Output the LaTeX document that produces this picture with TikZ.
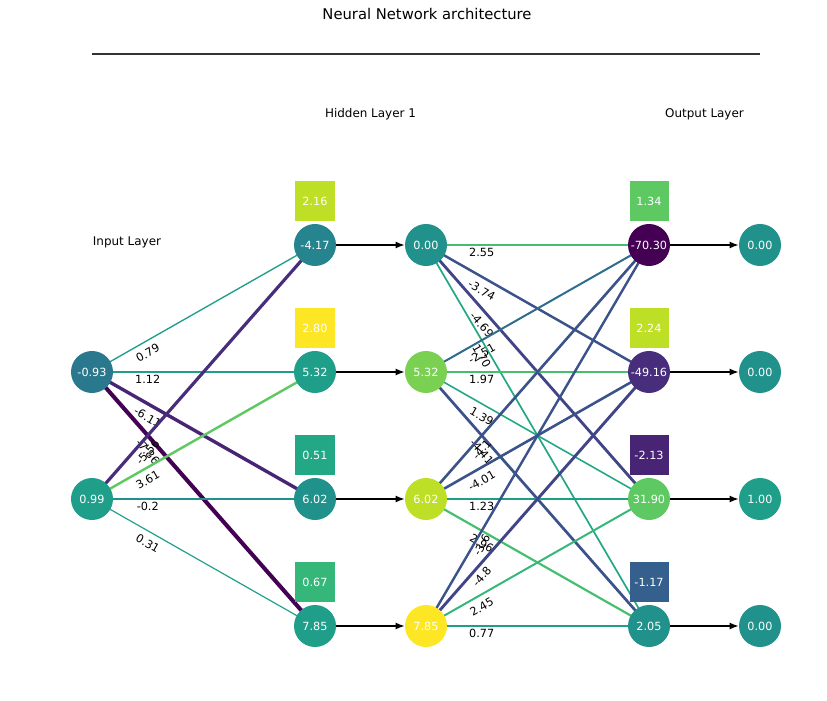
\documentclass[tikz,border=0pt]{standalone}
\usepackage{fontspec}
\setmainfont{DejaVu Sans}
\usetikzlibrary{arrows.meta,calc}
% viridis, sampled every 0.05
\definecolor{v00}{HTML}{440154}
\definecolor{v05}{HTML}{471365}
\definecolor{v10}{HTML}{482475}
\definecolor{v15}{HTML}{472D7B}
\definecolor{v20}{HTML}{414487}
\definecolor{v25}{HTML}{3B528B}
\definecolor{v30}{HTML}{355F8D}
\definecolor{v35}{HTML}{2F6C8E}
\definecolor{v40}{HTML}{2A788E}
\definecolor{v45}{HTML}{25848E}
\definecolor{v50}{HTML}{21918C}
\definecolor{v55}{HTML}{1F9E89}
\definecolor{v60}{HTML}{22A884}
\definecolor{v65}{HTML}{35B779}
\definecolor{v70}{HTML}{44BF70}
\definecolor{v75}{HTML}{5EC962}
\definecolor{v80}{HTML}{7AD151}
\definecolor{v85}{HTML}{9FDA3A}
\definecolor{v90}{HTML}{BDDF26}
\definecolor{v95}{HTML}{DFE318}
\definecolor{v100}{HTML}{FDE725}
\newcommand{\XI}{92}
\newcommand{\XH}{315}
\newcommand{\XA}{426}
\newcommand{\XO}{649}
\newcommand{\XP}{760}
\newcommand{\DY}{127}
\newcommand{\wfont}{\fontsize{8}{9}\selectfont}
\pgfdeclarelayer{bg}
\pgfsetlayers{bg,main}

\begin{document}
\begin{tikzpicture}[
    x=0.025cm, y=-0.025cm,
    unit/.style={circle, minimum size=1.05cm, inner sep=0pt, text=white, font=\wfont},
    bias/.style={rectangle, minimum size=0.975cm, inner sep=0pt, text=white, font=\wfont},
    wlab/.style={font=\wfont, inner sep=0pt},
    act/.style={-{Latex[length=6.5pt, width=5pt]}, line width=1pt},
    head/.style={font=\fontsize{8.5}{10}\selectfont},
  ]
  \useasboundingbox (0,0) rectangle (827,701);

  %% ================= titles =================
  \node[font=\fontsize{10.5}{12}\selectfont] (title) at (427,14) {Neural Network architecture};
  \coordinate (ruleL) at (92,54);
  \coordinate (ruleR) at (760,54);
  \draw[line width=1.2pt, black!80] (ruleL) -- (ruleR);
  \node[head] (hidtag) at (370.5,114) {Hidden Layer 1};
  \node[head] (outtag) at (704.5,114) {Output Layer};
  \node[head] (inptag) at (127,242) {Input Layer};

  %% ================= input layer =================
  \node[unit, fill=v40] (in1) at (\XI,372) {-0.93};
  \node[unit, fill=v55] (in2) at (\XI,499) {0.99};

  %% ================= hidden layer: sum, bias, activation =================
  \foreach \i/\vz/\va/\vb/\cz/\ca/\cb in {1/-4.17/0.00/2.16/v45/v50/v90,
      2/5.32/5.32/2.80/v55/v80/v100, 3/6.02/6.02/0.51/v50/v90/v60,
      4/7.85/7.85/0.67/v55/v100/v65} {
    \node[unit, fill=\cz] (hz\i) at (\XH,{245+(\i-1)*\DY}) {\vz};
    \node[bias, fill=\cb] (hb\i) at (\XH,{201+(\i-1)*\DY}) {\vb};
    \node[unit, fill=\ca] (ha\i) at (\XA,{245+(\i-1)*\DY}) {\va};
    \draw[act] (hz\i) -- (ha\i);
  }

  %% ================= output layer: sum, bias, activation =================
  \foreach \i/\vz/\va/\vb/\cz/\ca/\cb in {1/-70.30/0.00/1.34/v00/v50/v75,
      2/-49.16/0.00/2.24/v15/v50/v90, 3/31.90/1.00/-2.13/v75/v55/v10,
      4/2.05/0.00/-1.17/v50/v50/v30} {
    \node[unit, fill=\cz] (oz\i) at (\XO,{245+(\i-1)*\DY}) {\vz};
    \node[bias, fill=\cb] (ob\i) at (\XO,{201+(\i-1)*\DY}) {\vb};
    \node[unit, fill=\ca] (oa\i) at (\XP,{245+(\i-1)*\DY}) {\va};
    \draw[act] (oz\i) -- (oa\i);
  }

  %% ================= weights: from/to/value/colour =================
  % label sits a quarter of the way along, its rotated box hanging below that point
  \begin{pgfonlayer}{bg}
    \foreach \src/\dst/\w/\col in {in1/hz1/0.79/v55, in1/hz2/1.12/v55,
        in1/hz3/-6.11/v10, in1/hz4/-7.86/v00, in2/hz1/-5.56/v15,
        in2/hz2/3.61/v75, in2/hz3/-0.2/v50, in2/hz4/0.31/v55,
        ha1/oz1/2.55/v70, ha1/oz2/-3.74/v25, ha1/oz3/-4.69/v20, ha1/oz4/1.70/v60,
        ha2/oz1/-2.51/v35, ha2/oz2/1.97/v70, ha2/oz3/1.39/v60, ha2/oz4/-4.41/v25,
        ha3/oz1/-4.1/v25, ha3/oz2/-4.01/v25, ha3/oz3/1.23/v55, ha3/oz4/2.96/v70,
        ha4/oz1/-3.6/v25, ha4/oz2/-4.8/v20, ha4/oz3/2.45/v65, ha4/oz4/0.77/v55} {
      \draw[draw=\col, line width={(0.75+0.27*abs(\w))*1pt}] (\src.center) -- (\dst.center);
      \pgfmathanglebetweenpoints{\pgfpointanchor{\src}{center}}{\pgfpointanchor{\dst}{center}}
      \let\ang\pgfmathresult
      {\wfont\pgfmathwidth{"\w"}\xdef\tw{\pgfmathresult}}
      \pgfmathsetmacro\dd{(\tw*abs(sin(\ang))+6*abs(cos(\ang)))/2+2}
      \node[wlab, rotate=\ang] (w-\src-\dst) at ($(\src)!0.25!(\dst)+(0pt,-\dd pt)$) {\w};
    }
  \end{pgfonlayer}

\end{tikzpicture}
\end{document}
